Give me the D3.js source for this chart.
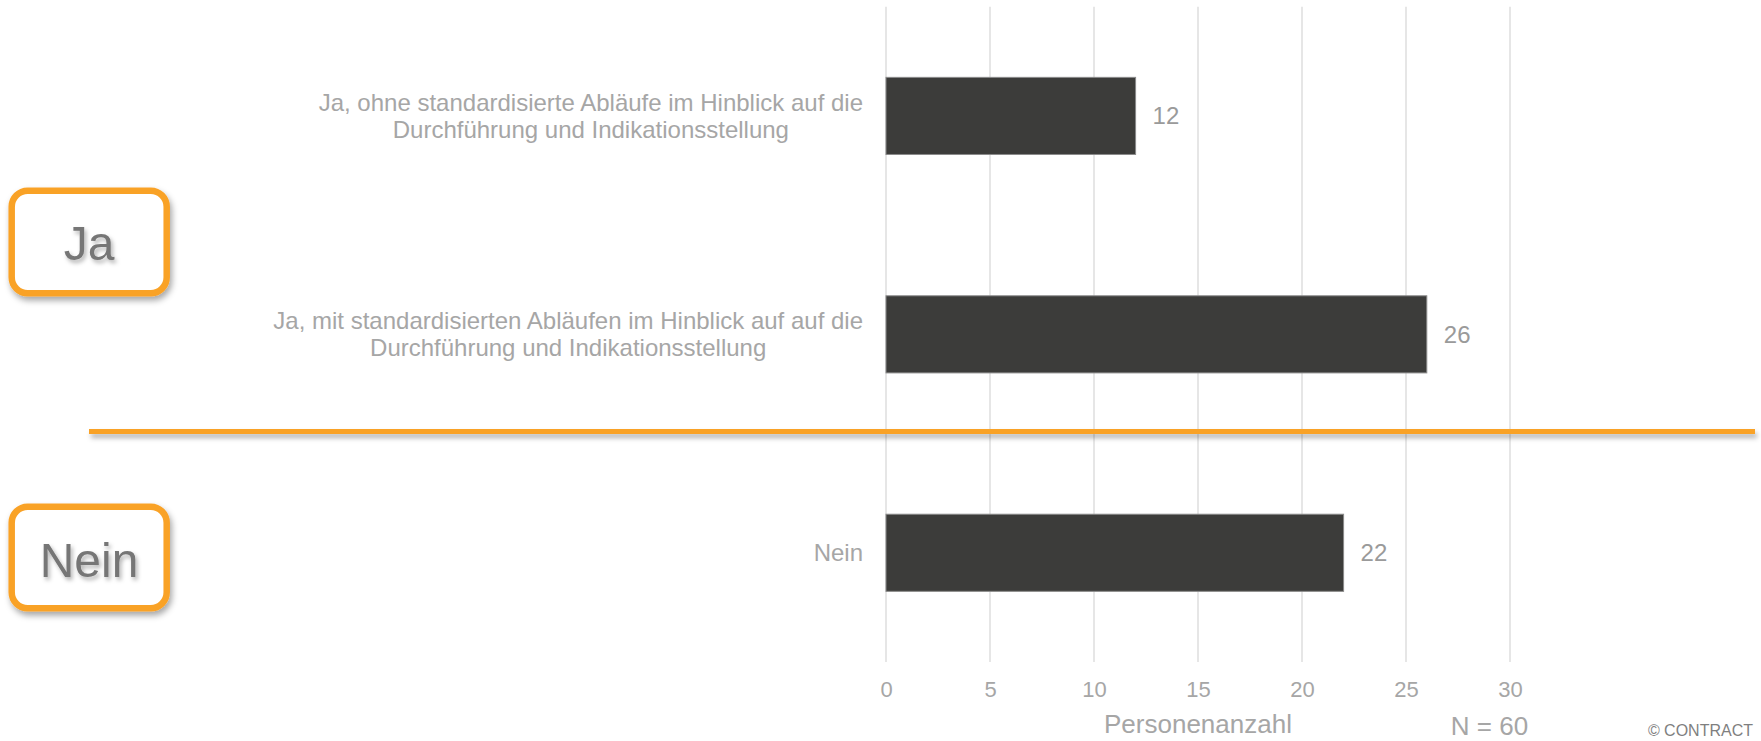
<!DOCTYPE html>
<html lang="de">
<head>
<meta charset="utf-8">
<title>Personenanzahl</title>
<script src="https://cdn.jsdelivr.net/npm/d3@7/dist/d3.min.js"></script>
<style>
  html, body { margin: 0; padding: 0; background: #ffffff; }
  svg { display: block; font-family: "Liberation Sans", Arial, Helvetica, sans-serif; }
</style>
</head>
<body>
<svg id="chart" width="1761" height="741"></svg>
<script>
// Answer categories (line breaks marked with \n)
const categories = [
  "Ja, ohne standardisierte Abläufe im Hinblick auf die\nDurchführung und Indikationsstellung",
  "Ja, mit standardisierten Abläufen im Hinblick auf auf die\nDurchführung und Indikationsstellung",
  "Nein"
];
// Number of respondents per category
const values = [12, 26, 22];
// Axis ticks
const tickValues = [0, 5, 10, 15, 20, 25, 30];
// Group headings shown in the boxes on the left
const groupLabels = ["Ja", "Nein"];
const axisTitle = "Personenanzahl";
const sampleNote = "N = 60";
const credit = "© CONTRACT";

const W = 1761, H = 741;
const plot = { left: 886, right: 1510, top: 6.7, bottom: 662 };

const svg = d3.select("#chart");

// Shadow filters
const defs = svg.append("defs");
const boxShadow = defs.append("filter").attr("id", "boxShadow")
  .attr("x", "-20%").attr("y", "-20%").attr("width", "140%").attr("height", "150%");
boxShadow.append("feDropShadow").attr("dx", 2).attr("dy", 4).attr("stdDeviation", 3)
  .attr("flood-color", "#000").attr("flood-opacity", 0.35);
const lineShadow = defs.append("filter").attr("id", "lineShadow")
  .attr("filterUnits", "userSpaceOnUse")
  .attr("x", 0).attr("y", 410).attr("width", W).attr("height", 50);
lineShadow.append("feDropShadow").attr("dx", 2).attr("dy", 4).attr("stdDeviation", 2.5)
  .attr("flood-color", "#000").attr("flood-opacity", 0.3);
const textShadow = defs.append("filter").attr("id", "textShadow")
  .attr("x", "-20%").attr("y", "-20%").attr("width", "150%").attr("height", "160%");
textShadow.append("feDropShadow").attr("dx", 2).attr("dy", 3).attr("stdDeviation", 2)
  .attr("flood-color", "#000").attr("flood-opacity", 0.3);

// Scales
const x = d3.scaleLinear().domain([0, 30]).range([plot.left, plot.right]);
const y = d3.scaleBand().domain(categories).range([plot.top, plot.bottom])
  .paddingInner(0.647).paddingOuter(0.3235);

// Vertical gridlines
svg.append("g").selectAll("line").data(tickValues).join("line")
  .attr("x1", d => x(d)).attr("x2", d => x(d))
  .attr("y1", plot.top).attr("y2", plot.bottom)
  .attr("stroke", "#e6e6e6").attr("stroke-width", 2);

// Bars
svg.append("g").selectAll("rect").data(values).join("rect")
  .attr("x", x(0))
  .attr("y", (d, i) => y(categories[i]))
  .attr("width", d => x(d) - x(0))
  .attr("height", y.bandwidth())
  .attr("fill", "#3c3c3a")
  .attr("stroke", "#8a8a8a").attr("stroke-width", 1);

// Value labels
svg.append("g").selectAll("text").data(values).join("text")
  .attr("x", d => x(d) + 17)
  .attr("y", (d, i) => y(categories[i]) + y.bandwidth() / 2)
  .attr("dy", "0.35em")
  .attr("font-size", 24)
  .attr("fill", "#9a9a9a")
  .text(d => d);

// Category labels: lines centred on each other, block right-aligned to the axis
const labelRight = plot.left - 23;
const labelG = svg.append("g");
categories.forEach((c, i) => {
  const lines = c.split("\n");
  const t = labelG.append("text")
    .attr("font-size", 24).attr("fill", "#a6a6a6").attr("text-anchor", "middle");
  const lh = 27;
  const cy = y(c) + y.bandwidth() / 2;
  const spans = lines.map((ln, k) => t.append("tspan")
    .attr("y", cy + (k - (lines.length - 1) / 2) * lh)
    .attr("dy", "0.35em")
    .text(ln));
  const maxW = d3.max(spans, s => s.node().getComputedTextLength());
  spans.forEach(s => s.attr("x", labelRight - maxW / 2));
});

// Tick labels
const axis = d3.axisBottom(x).tickValues(tickValues).tickSize(0).tickPadding(19);
const ax = svg.append("g").attr("transform", `translate(0,${plot.bottom})`).call(axis);
ax.select(".domain").remove();
ax.selectAll("text").attr("font-size", 22).attr("fill", "#a6a6a6")
  .attr("font-family", "\"Liberation Sans\", Arial, sans-serif");

// Axis title, sample size and credit
svg.append("text").attr("x", x(15)).attr("y", 733).attr("text-anchor", "middle")
  .attr("font-size", 26).attr("fill", "#a6a6a6").text(axisTitle);
svg.append("text").attr("x", 1489.5).attr("y", 735).attr("text-anchor", "middle")
  .attr("font-size", 26).attr("fill", "#a6a6a6").text(sampleNote);
svg.append("text").attr("x", 1753).attr("y", 736).attr("text-anchor", "end")
  .attr("font-size", 16).attr("fill", "#7f7f7f").text(credit);

// Separator between the "Ja" and "Nein" groups
svg.append("line")
  .attr("x1", 89).attr("x2", 1755).attr("y1", 431.5).attr("y2", 431.5)
  .attr("stroke", "#f9a228").attr("stroke-width", 5)
  .attr("filter", "url(#lineShadow)");

// Group boxes
const boxes = [
  { y: 190.7, h: 102.6, base: 260 },
  { y: 506.7, h: 101.6, base: 576.7 }
];
const boxG = svg.append("g");
groupLabels.forEach((g, i) => {
  const b = boxes[i];
  boxG.append("rect")
    .attr("x", 11.7).attr("y", b.y).attr("width", 155).attr("height", b.h)
    .attr("rx", 16).attr("ry", 16)
    .attr("fill", "#ffffff").attr("stroke", "#f9a228").attr("stroke-width", 6.5)
    .attr("filter", "url(#boxShadow)");
  boxG.append("text")
    .attr("x", 89).attr("y", b.base).attr("text-anchor", "middle")
    .attr("font-size", 48).attr("fill", "#767676")
    .attr("filter", "url(#textShadow)")
    .text(g);
});
</script>
</body>
</html>
